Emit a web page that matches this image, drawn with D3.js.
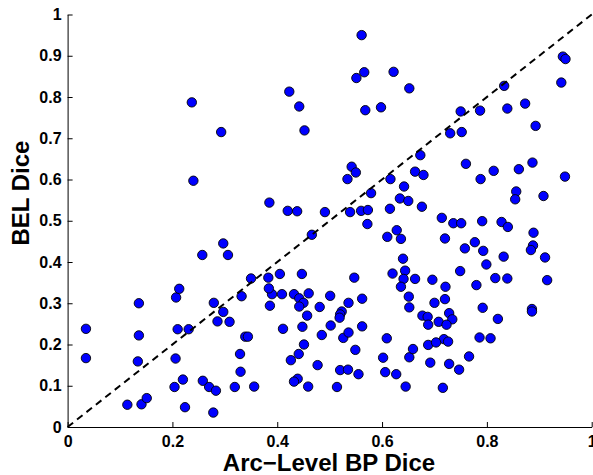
<!DOCTYPE html>
<html>
<head>
<meta charset="utf-8">
<script src="https://cdn.jsdelivr.net/npm/d3@7"></script>
<style>
  html, body { margin: 0; padding: 0; background: #fff; }
  svg { display: block; }
  text { font-family: "Liberation Sans", Arial, Helvetica, sans-serif; font-weight: bold; fill: #000; }
</style>
</head>
<body>
<svg id="chart" width="593" height="475"></svg>
<script>
// Arc-Level BP Dice (x) vs BEL Dice (y)
const arcDice = [
  0.561,0.566,0.551,0.622,0.652,0.423,0.442,0.452,0.568,0.598,0.673,0.730,0.752,0.237,0.293,0.945,0.950,0.942,0.833,0.873,0.839,0.787,0.750,0.893,
  0.760,0.788,0.813,0.861,0.887,0.949,0.856,0.854,0.908,0.714,0.736,0.751,0.791,0.828,0.840,0.889,0.720,0.777,0.758,0.793,0.888,0.884,0.832,0.911,0.799,0.749,0.816,0.839,0.915,0.721,0.780,0.720,
  0.792,0.886,0.886,0.728,0.821,0.734,0.708,0.723,0.718,0.726,0.786,0.807,0.766,0.728,0.747,0.716,
  0.386,0.390,0.409,0.432,0.442,0.450,0.460,0.457,0.442,0.481,0.501,0.536,0.523,0.520,0.519,0.562,0.411,0.448,0.502,0.485,0.526,0.536,0.562,0.451,0.549,0.441,0.426,0.477,0.520,0.535,0.555,0.439,0.432,0.459,0.514,0.356,
  0.609,0.602,0.606,0.627,0.645,0.652,0.659,0.692,0.688,0.703,0.652,0.651,0.700,0.677,0.687,0.688,
  0.035,0.035,0.136,0.136,0.134,0.114,0.141,0.151,0.207,0.213,0.210,0.231,0.206,0.204,0.220,0.224,0.258,0.270,0.283,0.278,0.279,0.297,0.286,0.309,0.332,0.339,0.344,0.329,0.330,0.319,
  0.240,0.297,0.257,0.306,0.350,
  0.542,0.550,0.534,0.663,0.679,0.616,0.642,0.579,0.634,0.650,0.676,0.385,0.420,0.438,0.491,0.539,0.560,0.573,0.615,0.572,0.466,0.628,0.610,0.636,0.640,0.644,0.620,0.641,0.663,0.696,0.636,0.383,0.405,0.447,0.547,0.384
];
const belDice = [
  0.950,0.860,0.846,0.861,0.821,0.813,0.777,0.719,0.768,0.775,0.659,0.712,0.715,0.787,0.715,0.898,0.892,0.835,0.827,0.784,0.772,0.767,0.765,0.730,
  0.638,0.601,0.621,0.625,0.641,0.607,0.571,0.552,0.560,0.507,0.494,0.494,0.499,0.497,0.485,0.471,0.457,0.448,0.433,0.427,0.440,0.429,0.413,0.411,0.394,0.378,0.361,0.360,0.356,0.340,0.344,0.310,
  0.289,0.286,0.280,0.276,0.262,0.261,0.255,0.248,0.213,0.207,0.217,0.215,0.171,0.153,0.139,0.095,
  0.294,0.322,0.322,0.322,0.312,0.301,0.324,0.270,0.292,0.291,0.318,0.301,0.280,0.273,0.265,0.311,0.238,0.243,0.246,0.223,0.216,0.229,0.244,0.200,0.187,0.177,0.162,0.150,0.138,0.139,0.128,0.117,0.110,0.098,0.097,0.098,
  0.215,0.168,0.133,0.128,0.098,0.169,0.189,0.156,0.199,0.205,0.290,0.316,0.301,0.270,0.267,0.248,
  0.238,0.167,0.300,0.222,0.159,0.054,0.055,0.070,0.314,0.335,0.237,0.237,0.166,0.097,0.115,0.048,0.112,0.097,0.088,0.035,0.301,0.279,0.256,0.255,0.317,0.219,0.219,0.177,0.134,0.097,
  0.597,0.445,0.417,0.417,0.360,
  0.631,0.617,0.601,0.619,0.611,0.601,0.583,0.567,0.554,0.548,0.534,0.544,0.524,0.523,0.521,0.521,0.524,0.526,0.529,0.492,0.466,0.477,0.461,0.456,0.408,0.379,0.372,0.359,0.359,0.357,0.340,0.362,0.371,0.371,0.362,0.336
];
const xTicks = [0, 0.2, 0.4, 0.6, 0.8, 1];
const xTickLabels = ["0", "0.2", "0.4", "0.6", "0.8", "1"];
const yTicks = [0, 0.1, 0.2, 0.3, 0.4, 0.5, 0.6, 0.7, 0.8, 0.9, 1];
const yTickLabels = ["0", "0.1", "0.2", "0.3", "0.4", "0.5", "0.6", "0.7", "0.8", "0.9", "1"];
const refLine = [[0, 0], [1, 1]];
const xTitle = "Arc\u2212Level BP Dice";
const yTitle = "BEL Dice";

const points = arcDice.map((v, i) => ({ x: v, y: belDice[i] }));

const svg = d3.select("#chart");
const plotLeft = 67.6, plotRight = 591.7, plotTop = 14.5, plotBottom = 427;
const x = d3.scaleLinear().domain([0, 1]).range([plotLeft, plotRight]);
const y = d3.scaleLinear().domain([0, 1]).range([plotBottom, plotTop]);

// points
svg.append("g").selectAll("circle").data(points).join("circle")
  .attr("cx", d => x(d.x)).attr("cy", d => y(d.y)).attr("r", 4.7)
  .attr("fill", "#0000ff").attr("stroke", "#000").attr("stroke-width", 0.9);

// dashed identity line
svg.append("path")
  .attr("d", d3.line().x(d => x(d[0])).y(d => y(d[1]))(refLine))
  .attr("fill", "none").attr("stroke", "#000").attr("stroke-width", 2)
  .attr("stroke-dasharray", "7,5");

// axes
const xAxis = d3.axisBottom(x).tickValues(xTicks).tickFormat((d, i) => xTickLabels[i])
  .tickSizeInner(-5).tickSizeOuter(0).tickPadding(9);
const gx = svg.append("g").attr("transform", `translate(0,${plotBottom})`).call(xAxis);
const yAxis = d3.axisLeft(y).tickValues(yTicks).tickFormat((d, i) => yTickLabels[i])
  .tickSizeInner(-5).tickSizeOuter(0).tickPadding(6);
const gy = svg.append("g").attr("transform", `translate(${plotLeft},0)`).call(yAxis);

[gx, gy].forEach(g => {
  g.select(".domain").attr("stroke", "#000").attr("stroke-width", 1);
  g.selectAll(".tick line").attr("stroke", "#000").attr("stroke-width", 1);
  g.selectAll(".tick text").attr("font-size", 16).attr("font-weight", "bold")
    .attr("font-family", '"Liberation Sans", Arial, sans-serif').attr("fill", "#000");
});

// axis titles
svg.append("text").attr("x", 329).attr("y", 471).attr("text-anchor", "middle")
  .attr("font-size", 24).text(xTitle);
svg.append("text").attr("transform", "translate(28.5,193) rotate(-90)")
  .attr("text-anchor", "middle").attr("font-size", 24).text(yTitle);
</script>
</body>
</html>
